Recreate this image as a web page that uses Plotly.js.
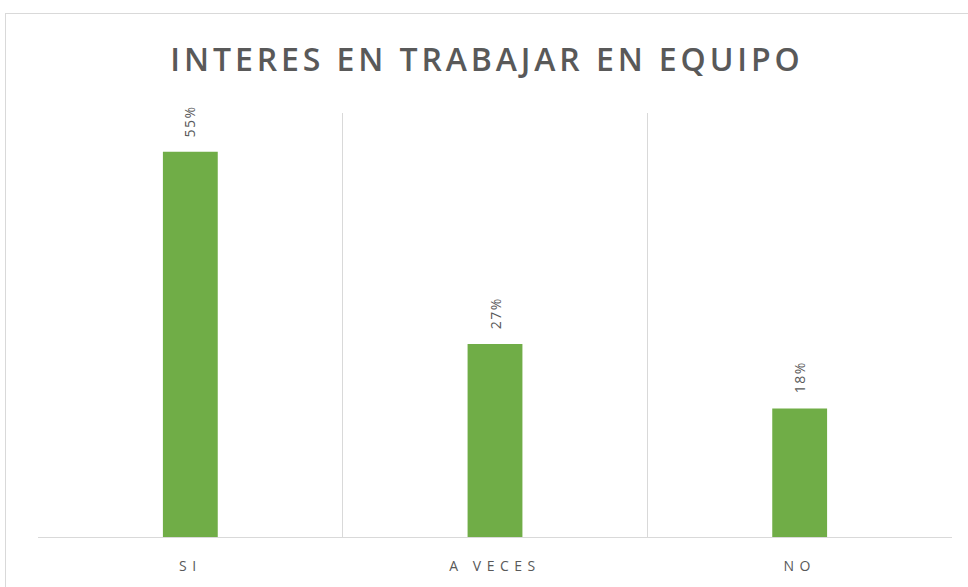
<!DOCTYPE html>
<html>
<head>
<meta charset="utf-8">
<script src="https://cdn.plot.ly/plotly-3.0.1.min.js"></script>
<style>
  html, body { margin: 0; padding: 0; background: #ffffff; }
  #frame { position: absolute; left: 5px; top: 13px; width: 963px; height: 574px; border: 1px solid #d9d9d9; border-right: none; border-bottom: none; box-sizing: border-box; background: #fff; }
  #chart { width: 962px; height: 573px; }
</style>
</head>
<body>
<div id="frame"><div id="chart"></div></div>
<script>
const categories = ["SI", "A VECES", "NO"];
const values = [54.5, 27.3, 18.2];
const valueLabels = ["55%", "27%", "18%"];
const chartTitle = "INTERES EN TRABAJAR EN EQUIPO";

const trace = {
  type: "bar",
  x: categories,
  y: values,
  marker: { color: "#70AD47" },
  hoverinfo: "none"
};

const labelAnnotations = categories.map(function (c, i) {
  return {
    x: c,
    y: values[i],
    xref: "x",
    yref: "y",
    text: valueLabels[i],
    showarrow: false,
    textangle: -90,
    xanchor: "center",
    yanchor: "bottom",
    yshift: 15,
    font: { family: "Open Sans", size: 14, color: "#595959" }
  };
});

const layout = {
  width: 962,
  height: 573,
  margin: { l: 32, r: 16, t: 99, b: 50 },
  paper_bgcolor: "#ffffff",
  plot_bgcolor: "#ffffff",
  bargap: 0.82,
  showlegend: false,
  annotations: labelAnnotations,
  title: {
    text: chartTitle,
    x: 0.5,
    xanchor: "center",
    y: 0.92,
    yanchor: "middle",
    font: { family: "Open Sans", size: 32, weight: 600, color: "#595959" }
  },
  xaxis: {
    type: "category",
    tickson: "boundaries",
    showgrid: true,
    gridcolor: "#d9d9d9",
    gridwidth: 1,
    showline: true,
    linecolor: "#d9d9d9",
    linewidth: 1,
    ticks: "",
    tickfont: { family: "Open Sans", size: 14, color: "#595959" },
    ticklabelstandoff: 16
  },
  yaxis: {
    range: [0, 60],
    showgrid: false,
    zeroline: false,
    showticklabels: false,
    showline: false
  }
};

Plotly.newPlot("chart", [trace], layout, { displayModeBar: false, staticPlot: true }).then(function (gd) {
  const t = gd.querySelector(".gtitle");
  if (t) t.style.letterSpacing = "3.9px";
  gd.querySelectorAll(".xtick text").forEach(function (el) { el.style.letterSpacing = "5.5px"; });
  gd.querySelectorAll(".annotation-text").forEach(function (el) { el.style.letterSpacing = "1.5px"; });
});
</script>
</body>
</html>
